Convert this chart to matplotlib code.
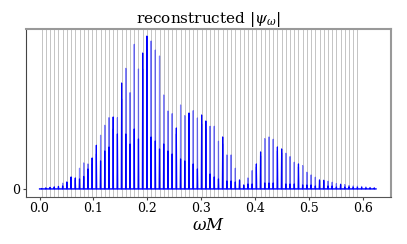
import numpy as np
import matplotlib
matplotlib.use('Agg')
import matplotlib.pyplot as plt

plt.rcParams['font.family'] = 'DejaVu Serif'
plt.rcParams['mathtext.fontset'] = 'dejavuserif'

# comb of resonant frequencies (omega*M), one peak per comb line
comb_spacing = 0.00782
n_lines = 76          # comb lines drawn in gray
n_peaks = 80          # peaks in the reconstructed spectrum
omega_start = 0.0
omega_end = 0.625

# peak heights (arbitrary units) of the two reconstructions
peaks_solid = [0.5, 1, 1.5, 2, 2.5, 3, 7, 12, 11, 10,
               12.5, 20, 31, 43.7, 28, 38, 42, 72, 55, 106,
               55, 45, 60, 50, 136, 153, 52, 48, 40, 45,
               38, 35, 61, 30, 28, 76, 25, 20, 74, 68,
               15, 12, 10, 52, 8, 8, 7, 9, 4, 5,
               5, 25, 37, 6, 6, 6, 42, 40, 5, 5,
               5, 25, 4, 4, 4, 3, 9, 8.7, 3, 3,
               2, 4.7, 2, 2, 1.5, 1.5, 1.5, 1, 1, 1]
peaks_faded = [0.5, 1, 1.5, 2, 2.5, 5.7, 5, 9, 9, 20.7,
               26, 25, 25, 35, 53.7, 63.7, 71.3, 60, 71.3, 90,
               120.7, 96.3, 144.7, 120, 120, 140, 148, 139, 133, 94,
               78, 75.3, 55, 84, 73.3, 65, 78.3, 71, 65, 60,
               62.7, 62.7, 47.7, 45, 34, 34, 20.7, 8, 3, 11,
               18.3, 22, 33, 50.3, 52, 49.7, 38, 36, 35.7, 32.3,
               26.7, 22, 23.3, 16.7, 14, 11.7, 8, 7.5, 7.7, 6.7,
               5.3, 4, 4.3, 3.3, 3, 2.7, 2.5, 2, 1.5, 1]


def spectrum_path(freqs, heights, half_width=0.0005):
    xs, ys = [omega_start], [0.0]
    for f, h in zip(freqs, heights):
        xs += [f - half_width, f, f + half_width]
        ys += [0.0, h, 0.0]
    xs.append(omega_end)
    ys.append(0.0)
    return np.array(xs), np.array(ys)


freqs = (np.arange(n_peaks) + 0.5) * comb_spacing

fig = plt.figure(figsize=(4.07, 2.44), dpi=100)
ax = fig.add_axes([0.064, 0.193, 0.897, 0.688])

for f in freqs[:n_lines]:
    ax.axvline(f, color='#b4b4b4', lw=0.55, zorder=1)

x, y = spectrum_path(freqs, peaks_faded)
ax.plot(x, y, color='b', alpha=0.5, lw=0.85, zorder=2)
x, y = spectrum_path(freqs, peaks_solid)
ax.plot(x, y, color='b', lw=0.85, zorder=3)

ax.set_xlim(-0.025, 0.653)
ax.set_ylim(-8, 160)
ax.set_yticks([0])
ax.set_xticks([0.0, 0.1, 0.2, 0.3, 0.4, 0.5, 0.6])
ax.tick_params(labelsize=9, length=2, pad=2, color='#444444')

for side in ['top', 'right']:
    ax.spines[side].set_color('#999999')
    ax.spines[side].set_linewidth(1.5)
ax.spines['left'].set_color('#444444')
ax.spines['bottom'].set_color('#555555')

ax.set_title(r'reconstructed $|\psi_\omega|$', fontsize=11, pad=2)
ax.set_xlabel(r'$\omega M$', fontsize=12, labelpad=1)

fig.savefig('out.png', dpi=100)
